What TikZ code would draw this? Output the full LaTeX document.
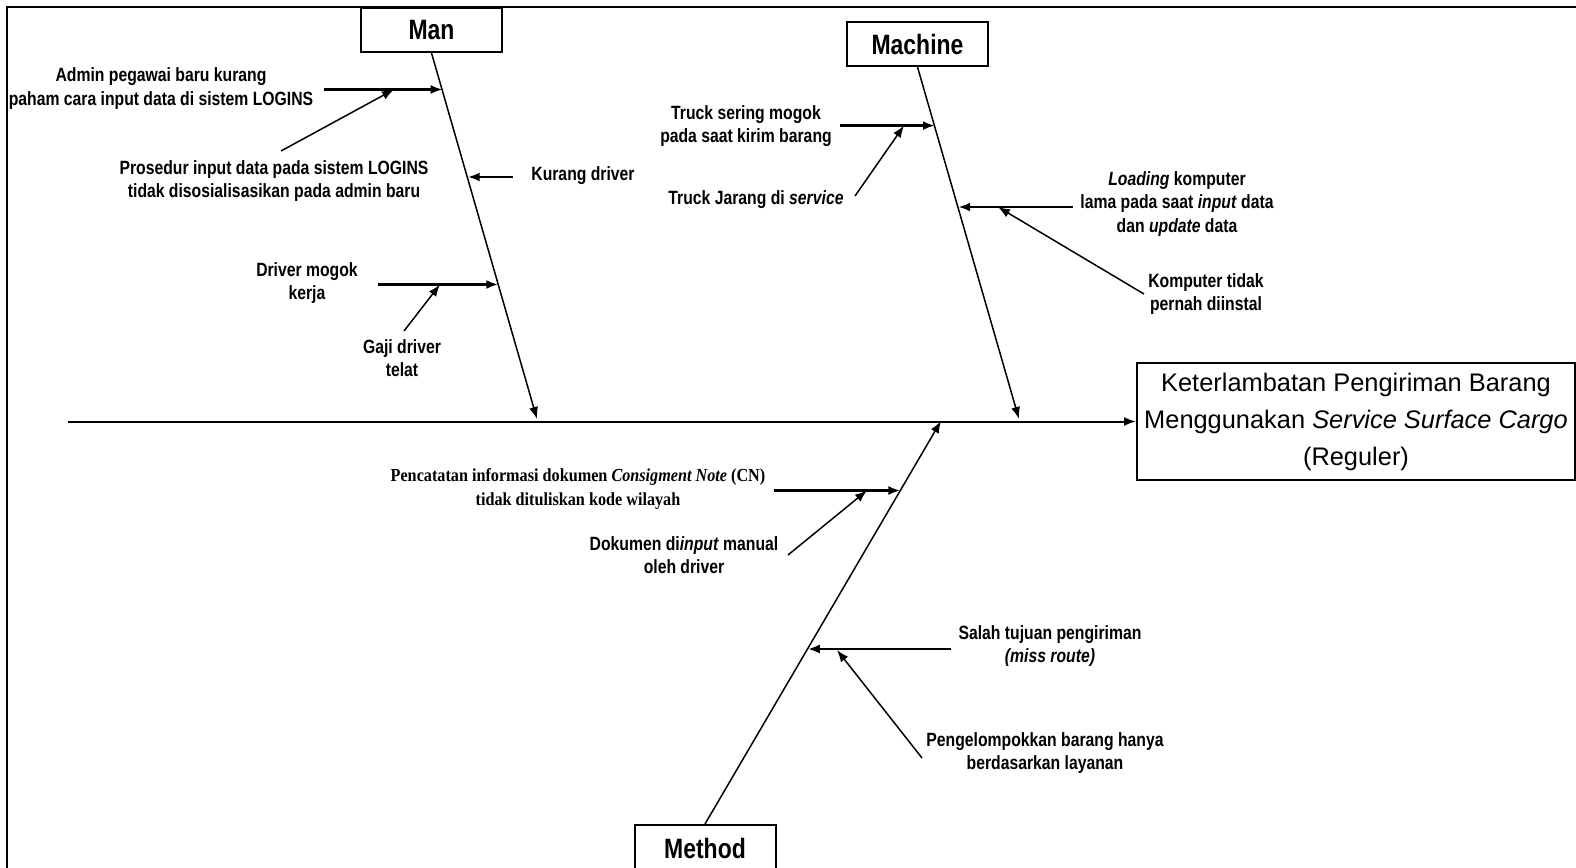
\documentclass[tikz,border=0pt]{standalone}
\usepackage{fontspec}
\setmainfont{Liberation Sans}
\newfontfamily\causefont{Liberation Sans}[FakeStretch=0.82]
\newfontfamily\serfont{Liberation Serif}[FakeStretch=0.88]
\usetikzlibrary{arrows.meta}
\begin{document}
\begin{tikzpicture}[x=0.5pt,y=-0.5pt,
  tip/.style={-{Latex[length=6pt,width=4.5pt]}},
  catbox/.style={draw,line width=1pt,minimum width=70.5pt,minimum height=22pt,inner sep=0pt,
    font=\causefont\bfseries\fontsize{14}{16}\selectfont},
  effectbox/.style={draw,line width=1pt,minimum width=219pt,minimum height=58.5pt,inner sep=0pt,
    align=center,font=\fontsize{12.7}{18.5}\selectfont},
  cause/.style={align=center,inner sep=0pt,font=\causefont\bfseries\fontsize{9.6}{11.8}\selectfont},
  scause/.style={align=center,inner sep=0pt,font=\serfont\bfseries\fontsize{9.2}{11.8}\selectfont},
  spine/.style={tip,line width=1pt},
  bone/.style={tip,line width=0.75pt},
  branch/.style={tip,line width=1.2pt},
  subbranch/.style={tip,line width=0.75pt},
]
\useasboundingbox (0,0) rectangle (1576,868);
% page frame (top and left rules)
\draw[line width=1pt] (7,868) -- (7,6.5) -- (1576,6.5);

% effect and spine
\node[effectbox] (effect) at (1356,421.5)
  {Keterlambatan Pengiriman Barang\\Menggunakan \textit{Service Surface Cargo}\\(Reguler)};
\coordinate (tail) at (68,421.5);
\draw[spine] (tail) -- (effect.west);

% category boxes
\node[catbox] (man) at (431.5,30) {Man};
\node[catbox] (machine) at (917.5,44) {Machine};
\node[catbox,minimum height=23pt] (method) at (705,848) {Method};

% main bones
\coordinate (manTip) at (537,419);
\coordinate (machineTip) at (1019,419);
\coordinate (methodTip) at (941,421);
\draw[bone] (man.south) -- (manTip);
\draw[bone] (machine.south) -- (machineTip);
\draw[bone] (method.north) -- (methodTip);

% ---- Man ----
\node[cause] (m1) at (161,88.5) {Admin pegawai baru kurang\\paham cara input data di sistem LOGINS};
\coordinate (m1s) at (323.6,89.5); \coordinate (m1e) at (442.7,89.5);
\draw[branch] (m1s) -- (m1e);
\node[cause] (m1a) at (274,181) {Prosedur input data pada sistem LOGINS\\tidak disosialisasikan pada admin baru};
\coordinate (m1as) at (281,151); \coordinate (m1ae) at (394,89.5);
\draw[subbranch] (m1as) -- (m1ae);

\node[cause] (m2) at (583,176) {Kurang driver};
\coordinate (m2s) at (513,177); \coordinate (m2e) at (467.7,177);
\draw[branch] (m2s) -- (m2e);

\node[cause] (m3) at (307,283) {Driver mogok\\kerja};
\coordinate (m3s) at (378,284.5); \coordinate (m3e) at (498.3,284.5);
\draw[branch] (m3s) -- (m3e);
\node[cause] (m3a) at (402,358) {Gaji driver\\telat};
\coordinate (m3as) at (404,331); \coordinate (m3ae) at (440,284.5);
\draw[subbranch] (m3as) -- (m3ae);

% ---- Machine ----
\node[cause] (c1) at (746,126) {Truck sering mogok\\pada saat kirim barang};
\coordinate (c1s) at (840,125.6); \coordinate (c1e) at (935,125.6);
\draw[branch] (c1s) -- (c1e);
\node[cause] (c1a) at (756,200) {Truck Jarang di \textit{service}};
\coordinate (c1as) at (855,196); \coordinate (c1ae) at (904,125.6);
\draw[subbranch] (c1as) -- (c1ae);

\node[cause] (c2) at (1177,204) {\textit{Loading} komputer\\lama pada saat \textit{input} data\\dan \textit{update} data};
\coordinate (c2s) at (1073,207); \coordinate (c2e) at (958.2,207);
\draw[branch] (c2s) -- (c2e);
\node[cause] (c2a) at (1206,294) {Komputer tidak\\pernah diinstal};
\coordinate (c2as) at (1144,294); \coordinate (c2ae) at (998,207);
\draw[subbranch] (c2as) -- (c2ae);

% ---- Method ----
\node[scause] (e1) at (578,489) {Pencatatan informasi dokumen \textit{Consigment Note} (CN)\\tidak dituliskan kode wilayah};
\coordinate (e1s) at (774,490.5); \coordinate (e1e) at (900.4,490.5);
\draw[branch] (e1s) -- (e1e);
\node[cause] (e1a) at (684,555) {Dokumen di\textit{input} manual\\oleh driver};
\coordinate (e1as) at (788,555); \coordinate (e1ae) at (867,490.5);
\draw[subbranch] (e1as) -- (e1ae);

\node[cause] (e2) at (1050,646) {Salah tujuan pengiriman\\\textit{(miss route)}};
\coordinate (e2s) at (951,649); \coordinate (e2e) at (807.8,649);
\draw[branch] (e2s) -- (e2e);
\node[cause] (e2a) at (1045,753) {Pengelompokkan barang hanya\\berdasarkan layanan};
\coordinate (e2as) at (922,758); \coordinate (e2ae) at (837,650);
\draw[subbranch] (e2as) -- (e2ae);
\end{tikzpicture}
\end{document}
